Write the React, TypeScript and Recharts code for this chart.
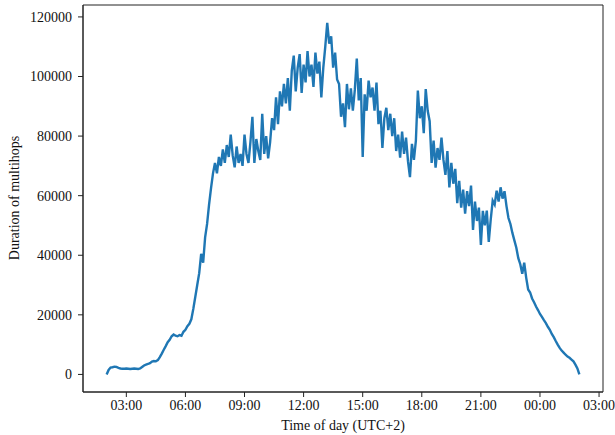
import React from 'react';
import { LineChart, Line, XAxis, YAxis, ReferenceArea } from 'recharts';

// Sampling grid: one reading every 0.1 h starting at 02:00
const startHour = 2;
const stepHours = 0.1;

// 02:00 – 06:00
const nightValues = [0, 1500, 2300, 2400, 2600, 2500, 2200, 2000, 1900, 1900, 2000, 1900, 1800, 1900, 2000, 1900, 1800, 2000, 2500, 3000, 3300, 3500, 3800, 4300, 4500, 4400, 4800, 5800, 7000, 8300, 9500, 10800, 11600, 12800, 13400, 13000, 12800, 13200, 13000, 14300, 15000];
// 06:06 – 07:30
const morningRise = [16200, 17000, 18500, 22000, 26000, 30000, 34000, 40500, 37500, 46000, 50500, 57000, 62500, 67500, 71000];
// 07:36 – 10:00
const morningPlateau = [67500, 73000, 70000, 75500, 71000, 77000, 73000, 80500, 73500, 69500, 76500, 71000, 74000, 70000, 80500, 74000, 71000, 78000, 86500, 71000, 79000, 75000, 72000, 87500, 74000];
// 10:06 – 13:00
const middayClimb = [80000, 72500, 78000, 86000, 82000, 93000, 84000, 95000, 90000, 97500, 91000, 99500, 88500, 102000, 107000, 95000, 103000, 107500, 94500, 104000, 98000, 108500, 100000, 104000, 96500, 108000, 101000, 105000, 93000, 103000];
// 13:06 – 16:00
const afternoonPeak = [110000, 118000, 111000, 113500, 103000, 108000, 99000, 97500, 86500, 91000, 83000, 97500, 89000, 96000, 88500, 95500, 106000, 92000, 99500, 73000, 94000, 88500, 98600, 93000, 96300, 88500, 98000, 84000, 88500, 76000];
// 16:06 – 19:00
const lateAfternoon = [86000, 89500, 82000, 87500, 80000, 86000, 75000, 80500, 72800, 81500, 74000, 79500, 71500, 66200, 77400, 72000, 78500, 95300, 86000, 90000, 81000, 95800, 88500, 85000, 71000, 78500, 69400, 76000, 72000, 79500];
// 19:06 – 22:00
const eveningValues = [72000, 67000, 75000, 62800, 71000, 64000, 69000, 57500, 65000, 56000, 62000, 54000, 61500, 56500, 63400, 48500, 58000, 51500, 56000, 43500, 54900, 50000, 55000, 44500, 52000, 58300, 57000, 61700, 58000, 62800];
// 22:06 – 02:00
const nightDecline = [59000, 61500, 56500, 52500, 50500, 47500, 45000, 42500, 39000, 37000, 33800, 37500, 32500, 28500, 27500, 25500, 24200, 22800, 21600, 20300, 19300, 18200, 17200, 16000, 15000, 13600, 12500, 11200, 10000, 8900, 8000, 7300, 6600, 6000, 5600, 5000, 4400, 3300, 2000, 0];

const durationValues = [
  ...nightValues,
  ...morningRise,
  ...morningPlateau,
  ...middayClimb,
  ...afternoonPeak,
  ...lateAfternoon,
  ...eveningValues,
  ...nightDecline,
];

const data = durationValues.map((v, i) => ({
  hour: startHour + i * stepHours,
  duration: v,
}));

const xTicks = [3, 6, 9, 12, 15, 18, 21, 24, 27];
const yTicks = [0, 20000, 40000, 60000, 80000, 100000, 120000];
const xDomain = [0.8, 27.2];
const yDomain = [-5900, 124000];

const FONT = '"Liberation Serif", "Times New Roman", serif';
const fmtHour = (h: number) => `${String(h % 24).padStart(2, '0')}:00`;

export default function App() {
  const tickStyle = { fontFamily: FONT, fontSize: 14, fill: '#111' };
  return (
    <div style={{ position: 'absolute', left: 0, top: 0, background: '#fff' }}>
      <LineChart
        width={615}
        height={435}
        data={data}
        margin={{ top: 5, right: 12, bottom: 0, left: 0 }}
      >
        <XAxis
          dataKey="hour"
          type="number"
          domain={xDomain}
          ticks={xTicks}
          tickFormatter={fmtHour}
          allowDataOverflow
          height={43}
          tickSize={5}
          tickMargin={3}
          tick={tickStyle}
          stroke="#222"
          label={{
            content: () => (
              <text x={343} y={430} textAnchor="middle" style={{ fontFamily: FONT, fontSize: 14, fill: '#111' }}>
                Time of day (UTC+2)
              </text>
            ),
          }}
        />
        <YAxis
          type="number"
          domain={yDomain}
          ticks={yTicks}
          allowDataOverflow
          width={83}
          tickSize={5}
          tickMargin={6}
          tick={tickStyle}
          stroke="#222"
          label={{
            content: () => (
              <text
                x={19}
                y={198}
                textAnchor="middle"
                transform="rotate(-90, 19, 198)"
                style={{ fontFamily: FONT, fontSize: 14, fill: '#111' }}
              >
                Duration of multihops
              </text>
            ),
          }}
        />
        <ReferenceArea
          x1={xDomain[0]}
          x2={xDomain[1]}
          y1={yDomain[0]}
          y2={yDomain[1]}
          fill="none"
          stroke="#222"
          strokeWidth={1}
          ifOverflow="visible"
        />
        <Line
          type="linear"
          dataKey="duration"
          stroke="#1f77b4"
          strokeWidth={2.4}
          dot={false}
          isAnimationActive={false}
        />
      </LineChart>
    </div>
  );
}
